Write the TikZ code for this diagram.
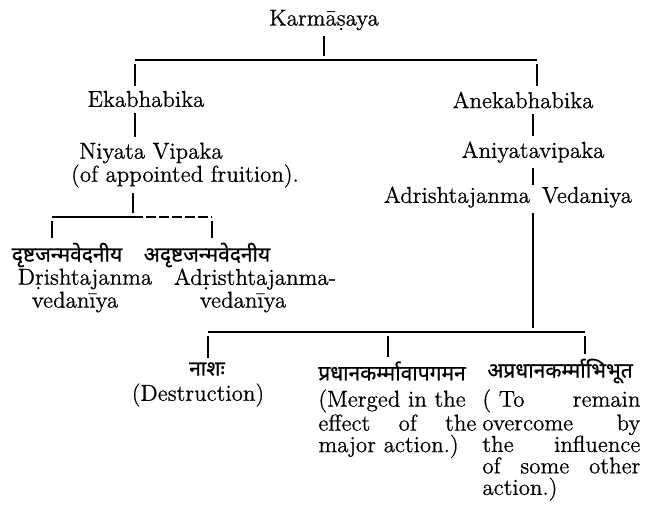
\documentclass[tikz,border=0pt]{standalone}
\usepackage{fontspec}
\newfontfamily\oldfont[FakeBold=0.6]{Latin Modern Roman}
\newfontfamily\devfont[Script=Devanagari, FakeBold=0.8]{Noto Sans}
\usetikzlibrary{positioning}

\begin{document}
\begin{tikzpicture}[x = .5pt, y = -.5pt,
	lbl/.style = {inner sep = .5pt, font = \oldfont\fontsize{11.5}{10.75}\selectfont},
	dev/.style = {inner sep = 0pt, font = \devfont\fontsize{10.5}{12}\selectfont},
	stem/.style = {line width = 1.1pt, shorten < = 2pt, shorten > = 2pt},
	bar/.style = {line width = .6pt}]
	\useasboundingbox (0, 0) rectangle (646, 510);

	% upper part
	\node[lbl] (karma) at (324, 20) {Karm\=a\d{s}aya};
	\node[lbl] (eka) at (146, 99) {Ekabhabika};
	\node[lbl] (aneka) at (523, 100) {Anekabhabika};
	\node[lbl] (niyata) at (151, 153) {Niyata Vipaka};
	\node[lbl] (fruit) at (185, 176) {(of appointed fruition).};
	\node[lbl] (aniyata) at (533, 152) {Aniyatavipaka};
	\node[lbl] (adrv) at (508, 197) {Adrishtajanma\hspace{6pt}Vedaniya};

	\coordinate (tl) at (135, 60);
	\coordinate (tr) at (537, 60);
	\draw[bar] (tl) -- (tr);
	\draw[stem] (karma) -- (karma |- tl);
	\draw[stem] (tl) -- (tl |- eka.north);
	\draw[stem] (tr) -- (tr |- aneka.north);
	\draw[stem] (tl |- eka.south) -- (tl |- niyata.north);
	\draw[stem] (aniyata |- aneka.south) -- (aniyata);
	\draw[stem, shorten > = 0pt] (aniyata) -- (aniyata |- adrv.north);

	% left branch
	\node[dev] (drisdev) at (67, 255) {दृष्टजन्मवेदनीय};
	\node[lbl] (dris) at (85, 279) {D\d{r}ishtajanma};
	\node[lbl] (drisv) at (75, 302) {vedan\={\i}ya};
	\node[dev] (adrisdev) at (207, 255) {अदृष्टजन्मवेदनीय};
	\node[lbl] (adris) at (255, 279) {Ad\d{r}isthtajanma-};
	\node[lbl] (adrisv) at (243, 302) {vedan\={\i}ya};

	\coordinate (ml) at (133, 217);
	\coordinate (dl) at (52, 217);
	\coordinate (dr) at (212, 217);
	\draw[stem] (ml |- fruit.south) -- (ml);
	\draw[bar] (dl) -- (ml);
	\draw[bar, dash pattern = on 5pt off 1.5pt] (ml) -- (dr);
	\draw[stem] (dl) -- (dl |- drisdev.north);
	\draw[stem] (dr) -- (dr |- adrisdev.north);

	% right branch
	\node[dev] (nash) at (207, 369) {नाशः};
	\node[lbl] (destr) at (198, 395) {(Destruction)};
	\node[dev] (pradh) at (392, 371) {प्रधानकर्म्मावापगमन};
	\node[lbl, text width = 79pt, align = left, anchor = north west] (merged) at (317, 388)
		{(Merged in the\\ effect \hfill of \hfill the\\ major action.)};
	\node[dev] (apradh) at (560, 371) {अप्रधानकर्म्माभिभूत};
	\node[lbl, text width = 79pt, align = left, anchor = north west] (remain) at (481, 388)
		{( To \hfill remain\\ overcome \hfill by\\ the \hfill influence\\ of \hfill some \hfill other\\ action.)};

	\coordinate (bl) at (208, 332);
	\coordinate (bm) at (388, 332);
	\coordinate (br) at (585, 332);
	\draw[stem] (aniyata |- adrv.south) -- (aniyata |- bl);
	\draw[bar] (bl) -- (br);
	\foreach \c/\n in {bl/nash, bm/pradh, br/apradh}{
		\draw[stem] (\c) -- (\c |- \n.north);}
\end{tikzpicture}
\end{document}
